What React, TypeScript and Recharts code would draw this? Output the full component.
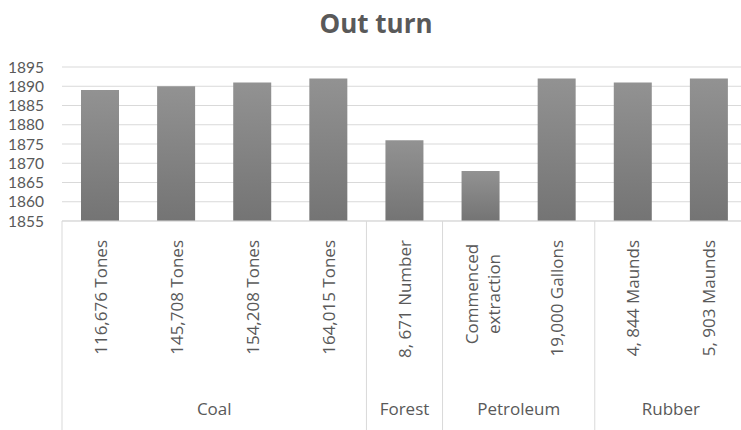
import React from 'react';
import { BarChart, Bar, XAxis, YAxis, CartesianGrid } from 'recharts';

const categories = [
  '116,676 Tones',
  '145,708 Tones',
  '154,208 Tones',
  '164,015 Tones',
  '8, 671 Number',
  'Commenced\nextraction',
  '19,000  Gallons',
  '4, 844 Maunds',
  '5, 903 Maunds',
];
const groups = ['Coal', 'Coal', 'Coal', 'Coal', 'Forest', 'Petroleum', 'Petroleum', 'Rubber', 'Rubber'];
const values = [1889, 1890, 1891, 1892, 1876, 1868, 1892, 1891, 1892];
const yTicks = [1855, 1860, 1865, 1870, 1875, 1880, 1885, 1890, 1895];

const data = categories.map((c, i) => ({ name: c, group: groups[i], value: values[i] }));

const CHART_W = 752;
const CHART_H = 430;
const MARGIN = { top: 67, right: 5, bottom: 0, left: 0 };
const Y_W = 62;
const BAND = (CHART_W - MARGIN.left - MARGIN.right - Y_W) / data.length;
const FONT = '"Open Sans", sans-serif';
const TEXT = '#595959';
const LINE = '#d9d9d9';

const CategoryTick = (props: any) => {
  const { x, y, payload, index } = props;
  const label: string = String(payload.value);
  const lines = label.split('\n');
  const g = groups[index];
  const first = index === 0 || groups[index - 1] !== g;
  const last = index === groups.length - 1;
  let count = 0;
  for (let k = index; k < groups.length && groups[k] === g; k++) count++;
  const left = x - BAND / 2;
  return (
    <g>
      {lines.length === 1 ? (
        <text
          transform={`translate(${x},${y + 19}) rotate(-90)`}
          textAnchor="end"
          dominantBaseline="central"
          fill={TEXT}
          fontSize={17}
          fontFamily={FONT}
        >
          {label}
        </text>
      ) : (
        lines.map((ln, li) => (
          <text
            key={li}
            transform={`translate(${x + (li - (lines.length - 1) / 2) * 22 + 2},${y + 73}) rotate(-90)`}
            textAnchor="middle"
            dominantBaseline="central"
            fill={TEXT}
            fontSize={17}
            fontFamily={FONT}
          >
            {ln}
          </text>
        ))
      )}
      {first && <line x1={left} x2={left} y1={y} y2={CHART_H} stroke={LINE} strokeWidth={1} />}
      {last && <line x1={x + BAND / 2} x2={x + BAND / 2} y1={y} y2={CHART_H} stroke={LINE} strokeWidth={1} />}
      {first && (
        <text
          x={left + (count * BAND) / 2}
          y={y + 187}
          textAnchor="middle"
          dominantBaseline="central"
          fill={TEXT}
          fontSize={17}
          fontFamily={FONT}
        >
          {g}
        </text>
      )}
    </g>
  );
};

export default function App() {
  return (
    <div
      style={{
        position: 'absolute',
        left: 0,
        top: 0,
        width: 741,
        height: 430,
        overflow: 'hidden',
        background: '#fff',
      }}
    >
      <div
        style={{
          position: 'absolute',
          left: 0,
          top: 5,
          width: CHART_W,
          textAlign: 'center',
          fontFamily: FONT,
          fontWeight: 700,
          fontSize: 26,
          color: TEXT,
          lineHeight: '36px',
        }}
      >
        Out turn
      </div>
      <BarChart width={CHART_W} height={CHART_H} data={data} margin={MARGIN}>
        <defs>
          <linearGradient id="barGrad" x1="0" y1="0" x2="0" y2="1">
            <stop offset="0%" stopColor="#929292" />
            <stop offset="100%" stopColor="#747474" />
          </linearGradient>
        </defs>
        <CartesianGrid vertical={false} stroke={LINE} />
        <XAxis
          dataKey="name"
          interval={0}
          tickLine={false}
          tickSize={0}
          tickMargin={0}
          axisLine={{ stroke: LINE }}
          height={CHART_H - 221 - MARGIN.bottom}
          tick={<CategoryTick />}
        />
        <YAxis
          width={Y_W}
          domain={[1855, 1895]}
          ticks={yTicks}
          interval={0}
          axisLine={false}
          tickLine={false}
          tickMargin={12}
          tick={{ fill: TEXT, fontSize: 15.5, fontFamily: 'Lato, sans-serif' }}
        />
        <Bar dataKey="value" fill="url(#barGrad)" barSize={38} isAnimationActive={false} />
      </BarChart>
    </div>
  );
}
